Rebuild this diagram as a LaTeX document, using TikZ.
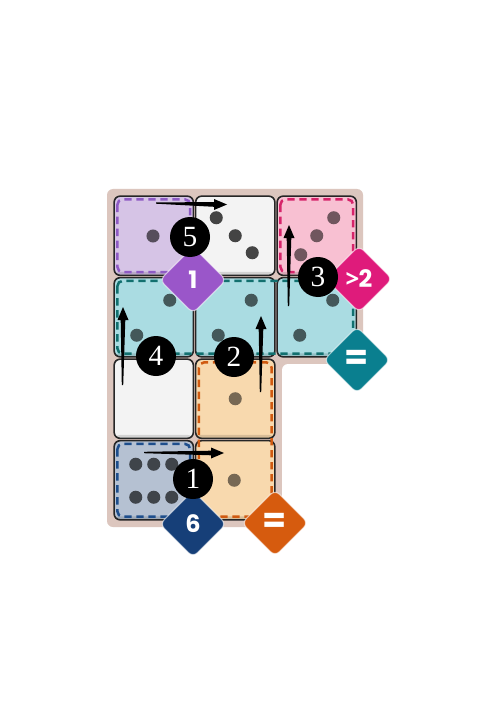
\documentclass[tikz,border=0pt]{standalone}
\usepackage{fontspec}
\setmainfont{Liberation Serif}
\newfontfamily\dfont{Poppins}
\newfontfamily\gtfont{Open Sans}
\usetikzlibrary{shapes.geometric,calc}
\definecolor{boardC}{HTML}{DCC6BE}
\definecolor{whiteC}{HTML}{F3F3F3}
\definecolor{purC}{HTML}{D6C4E6}\definecolor{purD}{HTML}{8E5BC4}\definecolor{purG}{HTML}{9A56C9}
\definecolor{pinkC}{HTML}{F8C0D2}\definecolor{pinkD}{HTML}{D6246A}\definecolor{pinkG}{HTML}{DF1B7B}
\definecolor{tealC}{HTML}{AADCE2}\definecolor{tealD}{HTML}{12706F}\definecolor{tealG}{HTML}{0A7F8F}
\definecolor{oraC}{HTML}{F8D9AE}\definecolor{oraD}{HTML}{D05A10}\definecolor{oraG}{HTML}{D65B0E}
\definecolor{bluC}{HTML}{B5C1D2}\definecolor{bluD}{HTML}{1E4E8C}\definecolor{bluG}{HTML}{163F78}
\definecolor{edgeC}{HTML}{262626}
\tikzset{
  cellbox/.style={draw=edgeC, line width=1.2pt, rounded corners=4.5pt, minimum width=59.4pt, minimum height=59.4pt, inner sep=0pt,
    path picture={\fill[black,opacity=.13] (path picture bounding box.south west) rectangle ([yshift=2.6pt]path picture bounding box.south east);}},
  dashreg/.style={line width=1.9pt, dash pattern=on 5.5pt off 3.5pt, rounded corners=4pt},
  pip/.style={circle, inner sep=0pt, minimum size=9.8pt},
  numc/.style={circle, fill=black, inner sep=0pt, minimum size=30pt, text=white, font=\fontsize{22}{22}\selectfont},
  dmd/.style={diamond, aspect=1, inner sep=0pt, minimum size=50pt, rounded corners=4.5pt, draw=white, draw opacity=.6, line width=0.8pt, text=white, font=\dfont\bfseries\fontsize{18}{18}\selectfont},
  arrfill/.style={fill=black}
}
\newcommand\harr[4]{\fill[arrfill] (#1,#2-0.7) -- (#3-13,#4-2.3) -- (#3-13,#4-5.5) -- (#3,#4) -- (#3-13,#4+5.5) -- (#3-13,#4+2.3) -- (#1,#2+0.7) -- cycle;}
\newcommand\varr[4]{\fill[arrfill] (#1-0.7,#2) -- (#3-2.3,#4+13) -- (#3-5.5,#4+13) -- (#3,#4) -- (#3+5.5,#4+13) -- (#3+2.3,#4+13) -- (#1+0.7,#2) -- cycle;}
\begin{document}
\begin{tikzpicture}[x=0.75pt,y=-0.75pt]
\useasboundingbox (0,0) rectangle (481,702);
\fill[white] (0,0) rectangle (481,702);
% board
\fill[boardC, rounded corners=4.5pt] (107,189) rectangle (363,527);
\fill[white, rounded corners=4.5pt] (282,364) rectangle (390,545);
% cells
\node[cellbox, fill=purC] (c00) at (153.75,235.75) {};
\node[cellbox, fill=whiteC] (c01) at (235.25,235.75) {};
\node[cellbox, fill=pinkC] (c02) at (316.75,235.75) {};
\node[cellbox, fill=tealC] (c10) at (153.75,317.25) {};
\node[cellbox, fill=tealC] (c11) at (235.25,317.25) {};
\node[cellbox, fill=tealC] (c12) at (316.75,317.25) {};
\node[cellbox, fill=whiteC] (c20) at (153.75,398.75) {};
\node[cellbox, fill=oraC] (c21) at (235.25,398.75) {};
\node[cellbox, fill=bluC] (c30) at (153.75,480.25) {};
\node[cellbox, fill=oraC] (c31) at (235.25,480.25) {};
% regions
\draw[dashreg, draw=purD] ([shift={(4,4)}]c00.north west) rectangle ([shift={(-4,-4)}]c00.south east);
\draw[dashreg, draw=pinkD] ([shift={(4,4)}]c02.north west) rectangle ([shift={(-4,-4)}]c02.south east);
\draw[dashreg, draw=tealD] ([shift={(4,4)}]c10.north west) rectangle ([shift={(-4,-4)}]c12.south east);
\draw[dashreg, draw=oraD] ([shift={(4,4)}]c21.north west) rectangle ([shift={(-4,-4)}]c31.south east);
\draw[dashreg, draw=bluD] ([shift={(4,4)}]c30.north west) rectangle ([shift={(-4,-4)}]c30.south east);
% pips
\node[pip, fill=purC!40!black] (p1) at (153,236) {};
\foreach \i/\dx/\dy in {a/-19/-18, b/0/0, c/17/17} \node[pip, fill=whiteC!28!black] (q\i) at ($(c01)+(\dx,\dy)$) {};
\foreach \i/\dx/\dy in {a/17/-18, b/0/0, c/-16/19} \node[pip, fill=pinkC!45!black] (r\i) at ($(c02)+(\dx,\dy)$) {};
\foreach \c in {c10,c11,c12} {
  \node[pip, fill=tealC!40!black] (\c a) at ($(\c)+(16,-17)$) {};
  \node[pip, fill=tealC!40!black] (\c b) at ($(\c)+(-17,18)$) {};
}
\node[pip, fill=oraC!48!black] (p21) at (c21) {};
\node[pip, fill=oraC!48!black] (p31) at ($(c31)+(-1,0)$) {};
\foreach \i/\dx/\dy in {a/-18/-16, b/0/-16, c/18/-16, d/-18/17, e/0/17, f/18/17} \node[pip, fill=bluC!35!black] (s\i) at ($(c30)+(\dx,\dy)$) {};
% arrows
\harr{156}{203}{227}{204.5}
\harr{144}{452.5}{224}{453}
\varr{122.5}{385}{123}{307}
\varr{260.5}{392}{261}{316}
\varr{288.5}{306}{289}{225}
% diamonds
\node[dmd, fill=purG] (g1) at (193,280) {1};
\node[dmd, fill=pinkG] (g2) at (359,279) {{\gtfont\bfseries >}\kern-0.5pt2};
\node[dmd, fill=tealG] (g3) at (357,360) {\fontsize{26}{26}\selectfont =};
\node[dmd, fill=bluG] (g4) at (193,524) {6};
\node[dmd, fill=oraG] (g5) at (275,523) {\fontsize{26}{26}\selectfont =};
% numbered circles
\node[numc] (n5) at (190,237) {5};
\node[numc] (n3) at (318,277) {3};
\node[numc] (n4) at (156,356) {4};
\node[numc] (n2) at (234,357) {2};
\node[numc] (n1) at (193,479) {1};
\end{tikzpicture}
\end{document}
